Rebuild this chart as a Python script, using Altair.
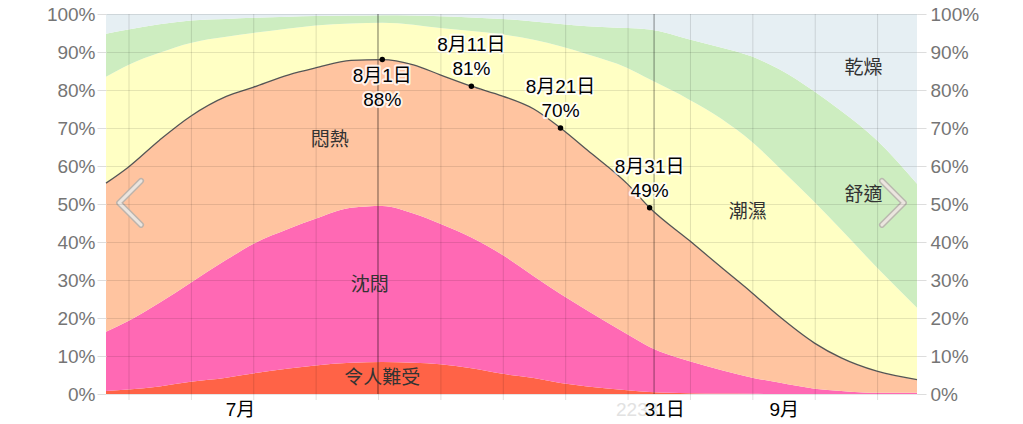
import altair as alt
import pandas as pd

# days since 1 July
days = [0, 2.5, 6, 9.5, 13.5, 16.5, 20.5, 23.5, 27.5, 31, 34.5, 37.5, 41, 44.5, 48,
        51, 54, 58.5, 61, 65.5, 69, 72.5, 75.5, 79.5, 82.5, 86.5, 91]

# cumulative upper boundary (%) of each comfort band
miserable_top = [0.8, 1.2, 2.0, 3.2, 4.3, 5.4, 6.7, 7.5, 8.2, 8.4, 8.2, 7.8, 6.8, 5.3, 4.2,
                 2.9, 2.0, 1.0, 0.5, 0.2, 0.1, 0.05, 0, 0, 0, 0, 0]
oppressive_top = [16.4, 19.2, 24.0, 29.3, 35.3, 39.5, 43.5, 46.1, 49.0, 49.5, 47.5, 44.8, 41.2, 36.6, 31.0,
                  26.3, 22.0, 15.7, 12.4, 8.6, 6.3, 4.3, 3.0, 1.4, 0.8, 0.3, 0.3]
muggy_top = [55.5, 59.7, 66.8, 73.1, 78.3, 80.7, 84.0, 85.8, 87.8, 88.0, 86.6, 84.0, 81.0, 78.4, 75.0,
             70.0, 64.2, 55.3, 49.0, 40.3, 33.4, 26.6, 20.5, 13.4, 9.5, 6.0, 3.8]
humid_top = [83.5, 86.6, 89.8, 92.4, 94.0, 95.0, 96.2, 97.0, 97.5, 97.7, 97.2, 96.3, 95.5, 94.6, 93.2,
             91.5, 89.4, 85.8, 82.8, 77.4, 72.5, 66.3, 59.7, 50.5, 43.2, 33.3, 22.7]
comfortable_top = [94.8, 95.9, 97.3, 98.3, 98.7, 99.0, 99.3, 99.5, 99.6, 99.7, 99.6, 99.4, 99.1, 98.7, 98.0,
                   97.4, 96.8, 96.3, 95.9, 93.3, 91.2, 88.8, 85.5, 79.6, 74.5, 66.8, 55.3]
dry_top = [100] * len(days)

band_names = ["令人難受", "沈悶", "悶熱", "潮濕", "舒適", "乾燥"]
band_colors = ["#FF6347", "#FF69B4", "#FFC4A0", "#FFFFC4", "#CDEDC0", "#E6EFF3"]

# labels inside the bands
region_days = [31, 29.6, 25.1, 72, 85, 85]
region_vals = [4.2, 28.6, 66.8, 48.0, 52.3, 85.8]

# annotated points on the "muggy or worse" line
ann_days = [31, 41, 51, 61]
ann_vals = [88, 81, 70, 49]
ann_dates = ["8月1日", "8月11日", "8月21日", "8月31日"]

# x axis
grid_days = [2.58 + 7 * k for k in range(13)]
marker_days = [30.5, 61.5]
xlabel_days = [15.1, 62.7, 76.1]
xlabel_text = ["7月", "31日", "9月"]
y_ticks = list(range(0, 101, 10))

nav_days = [2.7, 88.3]
nav_vals = [50.3, 50.3]
nav_shapes = ["M 0.5 -1 L -0.5 0 L 0.5 1", "M -0.5 -1 L 0.5 0 L -0.5 1"]

FONT = "'Liberation Sans', Arial, 'Noto Sans CJK TC', sans-serif"

tops = [miserable_top, oppressive_top, muggy_top, humid_top, comfortable_top, dry_top]
rows = []
for bi, name in enumerate(band_names):
    for i, d in enumerate(days):
        lo = 0 if bi == 0 else tops[bi - 1][i]
        rows.append({"day": d, "band": name, "lo": lo, "hi": tops[bi][i]})
bands = pd.DataFrame(rows)
line_df = pd.DataFrame({"day": days, "val": muggy_top})
ann = pd.DataFrame({"day": ann_days, "val": ann_vals, "date": ann_dates,
                    "pct": [f"{v}%" for v in ann_vals]})
regions = pd.DataFrame({"day": region_days, "val": region_vals, "name": band_names})
xlabels = pd.DataFrame({"day": xlabel_days, "text": xlabel_text})
markers = pd.DataFrame({"day": marker_days})
grid = pd.DataFrame({"day": grid_days})
nav = pd.DataFrame({"day": nav_days, "val": nav_vals, "shape": nav_shapes})

xscale = alt.Scale(domain=[0, 91], nice=False, zero=False)
yscale = alt.Scale(domain=[0, 100], nice=False)

y_left = alt.Axis(values=y_ticks, labelExpr="datum.value + '%'", grid=True, gridColor="#000000",
                  gridOpacity=0.1, tickSize=9, tickColor="#dddddd", domain=False, title=None,
                  labelColor="#757575", labelFontSize=19, labelFont=FONT, labelPadding=2, zindex=1)
y_right = alt.Axis(values=y_ticks, labelExpr="datum.value + '%'", grid=False, orient="right",
                   tickSize=9, tickColor="#dddddd", domain=False, title=None,
                   labelColor="#757575", labelFontSize=19, labelFont=FONT, labelPadding=4)

areas = alt.Chart(bands).mark_area(interpolate="monotone").encode(
    x=alt.X("day:Q", scale=xscale, axis=None),
    y=alt.Y("hi:Q", scale=yscale, axis=y_left),
    y2="lo:Q",
    color=alt.Color("band:N", scale=alt.Scale(domain=band_names, range=band_colors), legend=None),
)

grid_rules = alt.Chart(grid).mark_rule(color="#000000", opacity=0.12, strokeWidth=1).encode(
    x=alt.X("day:Q", scale=xscale, axis=None),
    y=alt.value(0),
    y2=alt.value(386),
)

rules = alt.Chart(markers).mark_rule(color="#000000", opacity=0.3, strokeWidth=1.5).encode(
    x=alt.X("day:Q", scale=xscale, axis=None),
    y=alt.value(0),
    y2=alt.value(380),
)

line = alt.Chart(line_df).mark_line(interpolate="monotone", color="#555555", strokeWidth=1.3).encode(
    x=alt.X("day:Q", scale=xscale, axis=None),
    y=alt.Y("val:Q", scale=yscale, axis=y_right),
)

pts = alt.Chart(ann).mark_circle(color="#000000", size=30, opacity=1).encode(
    x=alt.X("day:Q", scale=xscale, axis=None),
    y=alt.Y("val:Q", scale=yscale, axis=None),
)

def ann_text(field, dy, filt, halo):
    kw = dict(font=FONT, fontSize=19, dy=dy, baseline="middle", align="center")
    if halo:
        mk = alt.Chart(ann).mark_text(color="#ffffff", stroke="#ffffff", strokeWidth=4,
                                      strokeOpacity=0.8, strokeJoin="round", **kw)
    else:
        mk = alt.Chart(ann).mark_text(color="#000000", **kw)
    return mk.encode(
        x=alt.X("day:Q", scale=xscale, axis=None),
        y=alt.Y("val:Q", scale=yscale, axis=None),
        text=f"{field}:N",
    ).transform_filter(filt)

below = "datum.day == 31"
above = "datum.day != 31"
ann_layers = []
for halo in (True, False):
    ann_layers += [
        ann_text("date", 16, below, halo),
        ann_text("pct", 40, below, halo),
        ann_text("date", -41, above, halo),
        ann_text("pct", -17, above, halo),
    ]

region_text = alt.Chart(regions).mark_text(font=FONT, fontSize=19, color="#333333",
                                           baseline="middle", align="center").encode(
    x=alt.X("day:Q", scale=xscale, axis=None),
    y=alt.Y("val:Q", scale=yscale, axis=None),
    text="name:N",
)

ghost = alt.Chart(pd.DataFrame({"day": [59.6], "text": ["2233"]})).mark_text(
    font=FONT, fontSize=19, color="#e2e2e2", baseline="middle", align="center").encode(
    x=alt.X("day:Q", scale=xscale, axis=None),
    y=alt.value(396),
    text="text:N",
)

xlab = alt.Chart(xlabels).mark_text(font=FONT, fontSize=19, color="#000000",
                                    baseline="middle", align="center").encode(
    x=alt.X("day:Q", scale=xscale, axis=None),
    y=alt.value(396),
    text="text:N",
)

nav_outer = alt.Chart(nav).mark_point(size=1936, filled=False, stroke="#b8b3ae", strokeWidth=6,
                                      strokeCap="round", strokeJoin="round", opacity=0.9).encode(
    x=alt.X("day:Q", scale=xscale, axis=None),
    y=alt.Y("val:Q", scale=yscale, axis=None),
    shape=alt.Shape("shape:N", scale=None, legend=None),
)
nav_inner = alt.Chart(nav).mark_point(size=1936, filled=False, stroke="#ebe5df", strokeWidth=3,
                                      strokeCap="round", strokeJoin="round", opacity=1).encode(
    x=alt.X("day:Q", scale=xscale, axis=None),
    y=alt.Y("val:Q", scale=yscale, axis=None),
    shape=alt.Shape("shape:N", scale=None, legend=None),
)

chart = alt.layer(
    areas, grid_rules, rules, line, pts, region_text, *ann_layers, ghost, xlab, nav_outer, nav_inner
).properties(
    width=811, height=380,
    padding={"left": 98, "top": 6, "right": 98, "bottom": 30},
    autosize=alt.AutoSizeParams(type="none"),
    background="#ffffff",
).resolve_axis(y="independent").configure_view(stroke=None)

chart.save("out.html", embed_options={"renderer": "svg", "actions": False})
